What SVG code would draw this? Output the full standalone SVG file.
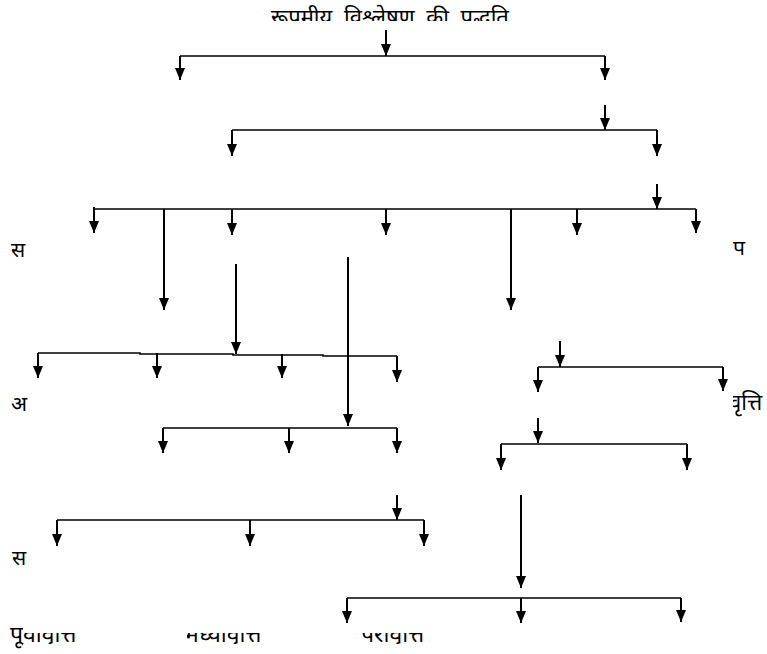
<svg xmlns="http://www.w3.org/2000/svg" width="767" height="654" viewBox="0 0 767 654">
<style>
.t{font-family:"Noto Sans","Liberation Sans",sans-serif;fill:#000}
.ar{stroke:#000;stroke-width:2;fill:none;marker-end:url(#ah)}
.hl{stroke:#000;stroke-width:1.6;fill:none}
</style>
<defs>
<marker id="ah" markerUnits="userSpaceOnUse" markerWidth="12" markerHeight="12" viewBox="0 0 12 12" refX="12" refY="6" orient="auto">
<path d="M0,1 L12,6 L0,11 z" fill="#000"/>
</marker>
<clipPath id="cTitle"><rect x="0" y="0" width="767" height="21"/></clipPath>
<clipPath id="cV"><rect x="733" y="370" width="34" height="50"/></clipPath>
<clipPath id="cB1"><rect x="0" y="600" width="23" height="54"/><rect x="23" y="633" width="150" height="11"/></clipPath>
<clipPath id="cB2"><rect x="187" y="633" width="120" height="11"/></clipPath>
<clipPath id="cB3"><rect x="362" y="633" width="120" height="11"/></clipPath>
</defs>
<rect width="767" height="654" fill="#fff"/>
<g id="title"><text class="t" x="390" y="25" font-size="22" word-spacing="6" text-anchor="middle" clip-path="url(#cTitle)">रूपमीय विश्लेषण की पद्धति</text></g>
<g id="label-s1"><text class="t" x="11" y="257" font-size="21">स</text></g>
<g id="label-p"><text class="t" x="733" y="255" font-size="21">प</text></g>
<g id="label-a"><text class="t" x="11" y="411" font-size="21">अ</text></g>
<g id="label-vritti"><text class="t" x="729" y="410" font-size="22" clip-path="url(#cV)">वृत्ति</text></g>
<g id="label-s2"><text class="t" x="12" y="565" font-size="21">स</text></g>
<g id="label-purva"><text class="t" x="10" y="642" font-size="23" clip-path="url(#cB1)">पूर्वावृत्ति</text></g>
<g id="label-madhya"><text class="t" x="185" y="642" font-size="23" clip-path="url(#cB2)">मध्यावृत्ति</text></g>
<g id="label-para"><text class="t" x="361" y="642" font-size="23" clip-path="url(#cB3)">परावृत्ति</text></g>
<g id="connectors">
<path class="hl" d="M180,56 H605 M232,130 H657 M94,209 H696 M38,353 H140 V354 H233 V355 H323 V356 H397 M163,428 H397 M538,367 H723 M501,444 H687 M57,520 H424 M347,598 H681"/>
<path class="ar" d="M386,30 V56"/>
<path class="ar" d="M180,56 V80"/>
<path class="ar" d="M605,56 V80"/>
<path class="ar" d="M605,105 V130"/>
<path class="ar" d="M232,130 V156"/>
<path class="ar" d="M657,130 V156"/>
<path class="ar" d="M657,184 V209"/>
<path class="ar" d="M94,207 V233"/>
<path class="ar" d="M164,209 V310"/>
<path class="ar" d="M232,209 V235"/>
<path class="ar" d="M386,209 V235"/>
<path class="ar" d="M511,209 V310"/>
<path class="ar" d="M577,209 V235"/>
<path class="ar" d="M696,209 V233"/>
<path class="ar" d="M236,264 V354"/>
<path class="ar" d="M348,257 V426"/>
<path class="ar" d="M38,353 V378"/>
<path class="ar" d="M157,353 V378"/>
<path class="ar" d="M282,354 V378"/>
<path class="ar" d="M397,356 V382"/>
<path class="ar" d="M163,428 V453"/>
<path class="ar" d="M289,428 V453"/>
<path class="ar" d="M397,428 V453"/>
<path class="ar" d="M560,341 V367"/>
<path class="ar" d="M538,367 V392"/>
<path class="ar" d="M723,367 V391"/>
<path class="ar" d="M538,418 V443"/>
<path class="ar" d="M501,444 V470"/>
<path class="ar" d="M687,444 V470"/>
<path class="ar" d="M397,495 V520"/>
<path class="ar" d="M57,520 V546"/>
<path class="ar" d="M250,520 V546"/>
<path class="ar" d="M424,520 V546"/>
<path class="ar" d="M521,495 V588"/>
<path class="ar" d="M347,598 V623"/>
<path class="ar" d="M521,598 V623"/>
<path class="ar" d="M681,598 V622"/>
</g>
</svg>
